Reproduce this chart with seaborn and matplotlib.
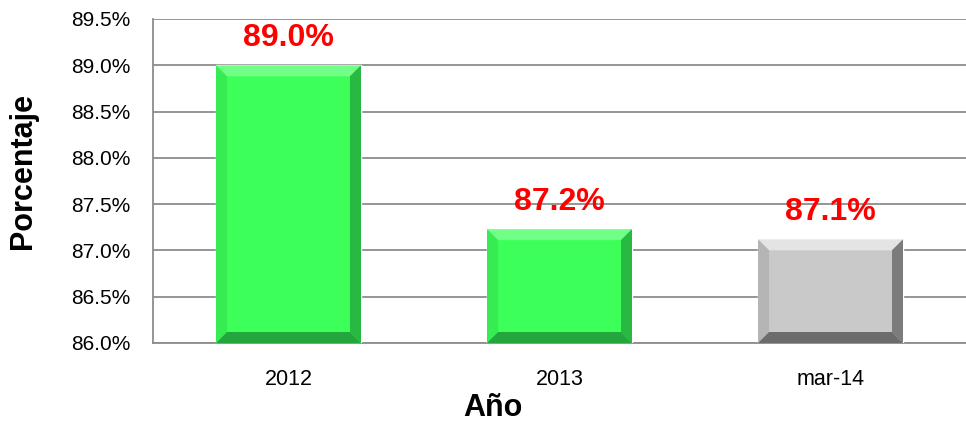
import numpy as np
import pandas as pd
import matplotlib
matplotlib.use('Agg')
import matplotlib.pyplot as plt
import seaborn as sns
from matplotlib.patches import Polygon
from matplotlib.ticker import FuncFormatter

# datos
years = ['2012', '2013', 'mar-14']
pct = [89.0, 87.23, 87.12]
bar_colors = ['#3DFF5A', '#3DFF5A', '#C9C9C9']

df = pd.DataFrame({'Año': years, 'Porcentaje': pct})

sns.set_style('white')
plt.rcParams['font.family'] = ['Liberation Sans', 'DejaVu Sans']
plt.rcParams['text.color'] = 'black'
plt.rcParams['axes.labelcolor'] = 'black'
plt.rcParams['xtick.color'] = 'black'
plt.rcParams['ytick.color'] = 'black'

fig = plt.figure(figsize=(9.66, 4.26), dpi=100)
ax = fig.add_axes([153 / 966, 1 - 343 / 426, 813 / 966, 324 / 426])

sns.barplot(data=df, x='Año', y='Porcentaje', hue='Año', palette=bar_colors,
            width=0.535, legend=False, ax=ax, zorder=3, saturation=1)

ymin, ymax = 86.0, 89.5
ax.set_ylim(ymin, ymax)
ax.set_xlim(-0.5, 2.5)
ax.set_yticks(np.arange(86.0, 89.51, 0.5))
ax.yaxis.set_major_formatter(FuncFormatter(lambda v, p: f'{v:.1f}%'))
ax.grid(axis='y', color='#8C8C8C', linewidth=1.3, zorder=0)
ax.set_axisbelow(True)

for s in ['top', 'right']:
    ax.spines[s].set_visible(False)
for s in ['left', 'bottom']:
    ax.spines[s].set_color('#8C8C8C')
    ax.spines[s].set_linewidth(1.3)

ax.tick_params(axis='y', direction='inout', length=8, width=1.2, color='#8C8C8C',
               labelsize=15, pad=12, labelcolor='black')
ax.tick_params(axis='x', which='major', length=0, labelsize=15.5, pad=19,
               labelcolor='black')
ax.set_xticks([-0.5, 0.5, 1.5], minor=True)
ax.tick_params(axis='x', which='minor', direction='out', length=6, width=1.2,
               color='#8C8C8C')

ax.set_xlabel('Año', fontsize=22, fontweight='bold')
ax.xaxis.set_label_coords(0.418, -0.155)
ax.set_ylabel('Porcentaje', fontsize=22, fontweight='bold')
ax.yaxis.set_label_coords(-0.141, 0.53)

# efecto biselado en las barras
fig.canvas.draw()
shades = {
    '#3DFF5A': ('#72FF87', '#36EC52', '#27B942', '#23A63B'),
    '#C9C9C9': ('#E4E4E4', '#B5B5B5', '#7C7C7C', '#6C6C6C'),
}
for patch, col, v in zip(ax.patches, bar_colors, pct):
    x0 = patch.get_x()
    x1 = x0 + patch.get_width()
    (px0, py0), (px1, py1) = ax.transData.transform([(x0, ymin), (x1, v)])
    b = 11
    top_c, left_c, right_c, bot_c = shades[col]
    polys = [
        ([(px0, py1), (px1, py1), (px1 - b, py1 - b), (px0 + b, py1 - b)], top_c),
        ([(px0, py0), (px0, py1), (px0 + b, py1 - b), (px0 + b, py0 + b)], left_c),
        ([(px1, py0), (px1, py1), (px1 - b, py1 - b), (px1 - b, py0 + b)], right_c),
        ([(px0, py0), (px1, py0), (px1 - b, py0 + b), (px0 + b, py0 + b)], bot_c),
    ]
    for pts, c in polys:
        fig.patches.append(Polygon(pts, closed=True, transform=None,
                                   facecolor=c, edgecolor='none', zorder=4))
    ax.annotate(f'{v:.1f}%', xy=(patch.get_x() + patch.get_width() / 2, v),
                xytext=(0, 9), textcoords='offset points', ha='center',
                va='bottom', color='#FF0000', fontsize=23, fontweight='bold')

fig.savefig('out.png', dpi=100)
